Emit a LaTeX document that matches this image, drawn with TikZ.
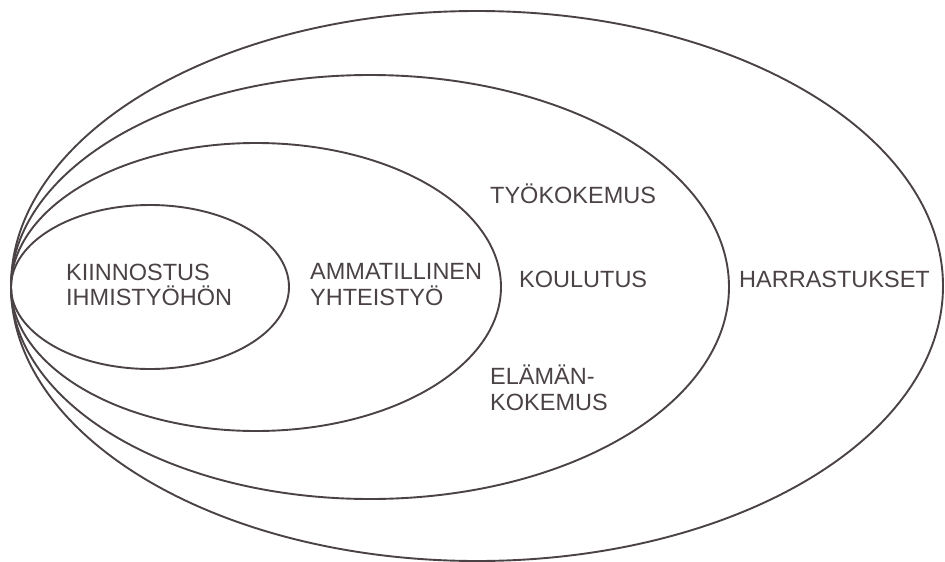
\documentclass[tikz,border=0pt]{standalone}
\usepackage{fontspec}
\setmainfont{Liberation Sans}
\definecolor{ink}{HTML}{4A4244}
\begin{document}
\begin{tikzpicture}[x=1pt,y=-1pt,
  ring/.style={draw=ink, line width=1.9pt},
  lbl/.style={text=ink, font=\fontsize{23.5}{25.5}\selectfont, inner sep=0pt, align=left}]
\useasboundingbox (0,0) rectangle (945,562);
% nested ellipses, all touching at the left
\draw[ring] (477,286) ellipse [x radius=466pt, y radius=275pt];
\draw[ring] (370,287) ellipse [x radius=359pt, y radius=212pt];
\draw[ring] (256,287) ellipse [x radius=245pt, y radius=144pt];
\draw[ring] (150,287) ellipse [x radius=139pt, y radius=82pt];
% labels (base anchor = baseline of last line)
\node[lbl, anchor=base west] (kiin) at (66,305.5) {KIINNOSTUS\\IHMISTYÖHÖN};
\node[lbl, anchor=base west] (amm) at (310,305) {AMMATILLINEN\\YHTEISTYÖ};
\node[lbl, anchor=base west] (tyo) at (490,203) {TYÖKOKEMUS};
\node[lbl, anchor=base west] (koul) at (519,287) {KOULUTUS};
\node[lbl, anchor=base west] (elam) at (490,410) {ELÄMÄN-\\KOKEMUS};
\node[lbl, anchor=base west] (harr) at (739,287) {HARRASTUKSET};
\end{tikzpicture}
\end{document}
